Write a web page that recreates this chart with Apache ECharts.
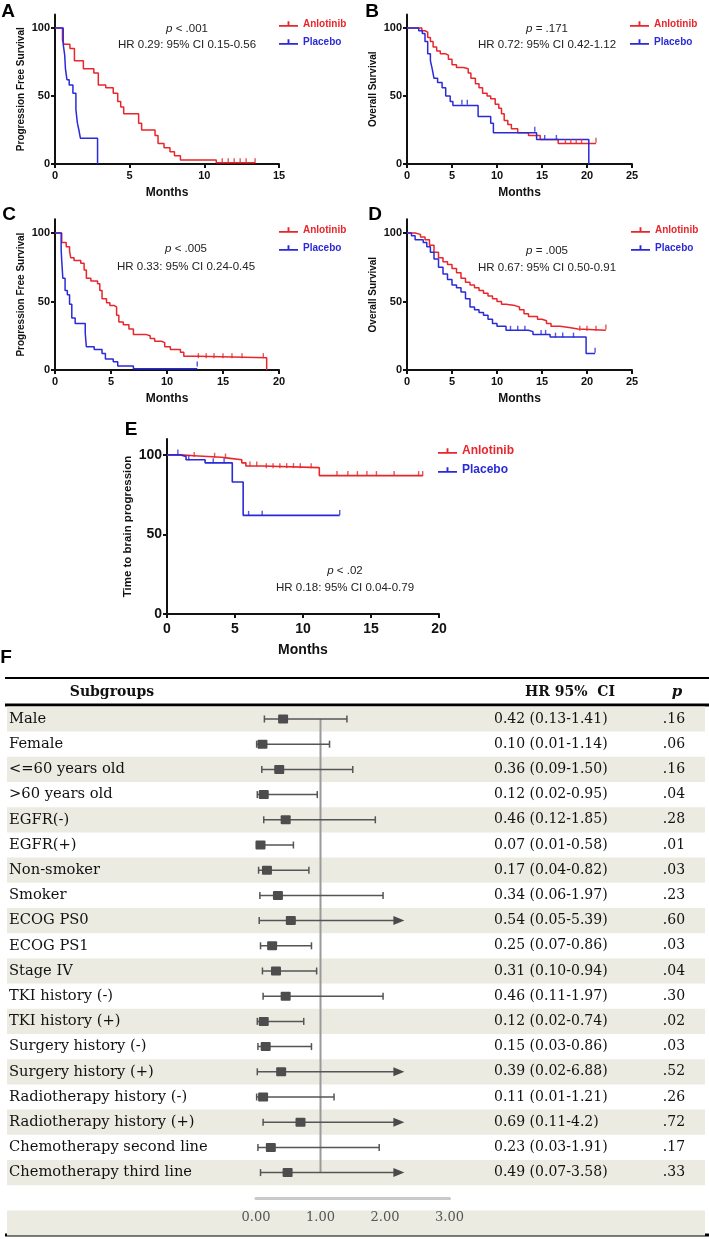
<!DOCTYPE html>
<html><head><meta charset="utf-8">
<script src="https://cdn.jsdelivr.net/npm/echarts@6/dist/echarts.min.js"></script>
<style>html,body{margin:0;padding:0;background:#fff}#c{width:709px;height:1239px}</style>
</head><body><div id="c"></div>
<script>
// ---------- Kaplan-Meier data: [months, survival %] (step after) ----------
const anlA = [[0,100],[0.5,91],[0.6,88],[1.0,85],[1.3,76],[1.9,70],[2.6,67],[2.9,58],[3.4,56],[3.9,52],[4.2,46],[4.4,42],[4.6,37],[5.6,30],[5.8,25],[6.7,21],[6.9,15],[7.3,12],[7.7,9],[8.0,6],[8.4,3],[10.8,1],[13.4,1]];
const plaA = [[0,100],[0.55,88],[0.65,80],[0.7,70],[0.8,62],[0.95,58],[1.2,52],[1.4,40],[1.5,30],[1.6,25],[1.7,19],[2.85,0]];
const censAnlA = [[11.2,1],[11.6,1],[12.0,1],[12.4,1],[12.8,1],[13.4,1]];
const censPlaA = [];

const anlB = [[0,100],[1.65,98],[2.0,97],[2.3,93],[2.6,90],[2.9,86],[3.3,83],[3.7,81],[4.3,80],[4.6,77],[5.0,73],[5.5,71],[6.3,70],[6.8,67],[7.1,63],[7.6,59],[8.0,56],[8.4,52],[8.9,50],[9.3,48],[9.8,44],[10.2,41],[10.5,37],[10.8,32],[11.2,29],[11.6,26],[12.3,23],[13.5,21],[14.8,18],[16.8,15],[21.0,15]];
const plaB = [[0,100],[1.3,98],[1.7,96],[2.0,90],[2.3,81],[2.6,76],[2.8,70],[3.0,63],[3.4,60],[3.9,56],[4.3,50],[4.8,46],[5.1,43],[7.9,35],[9.3,30],[9.6,23],[14.4,18],[20.2,0]];
const censAnlB = [[17.6,15],[18.2,15],[18.8,15],[19.4,15],[21.0,16]];
const censPlaB = [[6.1,44],[6.7,44],[14.2,24],[15.3,18],[16.6,18]];

const anlC = [[0,100],[0.6,93],[1.0,90],[1.3,87],[1.4,82],[1.7,80],[2.3,78],[2.6,73],[2.8,67],[3.2,65],[3.8,63],[4.0,58],[4.2,52],[4.6,49],[4.9,47],[5.3,46],[5.5,40],[5.7,35],[6.1,33],[6.6,30],[7.0,26],[8.1,25],[8.5,23],[8.9,21],[9.5,20],[9.8,17],[10.3,15],[11.2,13],[11.5,10],[12.8,9],[18.9,0]];
const plaC = [[0,100],[0.55,88],[0.6,80],[0.7,67],[0.9,58],[1.1,55],[1.3,48],[1.5,38],[1.8,34],[2.7,27],[2.8,17],[3.5,15],[4.2,12],[4.5,8],[5.2,6],[5.6,3],[7.0,1],[12.7,1]];
const censAnlC = [[12.8,9],[13.5,9],[14.2,9],[15.0,9],[15.8,9],[16.7,9],[18.6,9]];
const censPlaC = [[12.7,3]];

const anlD = [[0,100],[0.9,99],[1.5,97],[2.0,95],[2.5,91],[3.0,86],[3.5,82],[4.0,79],[4.5,77],[5.0,74],[5.5,71],[6.0,67],[6.5,64],[7.0,62],[7.5,60],[8.0,58],[8.5,56],[9.0,54],[9.5,52],[10.0,50],[10.5,48],[11.0,47],[12.0,46],[12.5,44],[13.0,41],[13.5,39],[14.5,37],[15.0,36],[15.5,34],[16.0,32],[17.0,31],[18.0,30],[19.0,29],[22.1,29]];
const plaD = [[0,100],[0.5,98],[0.9,95],[1.8,93],[2.2,90],[2.6,86],[3.0,81],[3.5,75],[4.0,70],[4.5,66],[5.0,62],[5.5,60],[6.0,57],[6.5,52],[7.0,46],[7.5,44],[8.0,42],[8.5,40],[9.0,37],[9.5,34],[10.0,32],[11.0,29],[13.5,28],[14.0,26],[15.9,24],[19.9,12],[20.9,12]];
const censAnlD = [[19.2,29],[20.0,29],[21.0,29],[22.1,30]];
const censPlaD = [[11.5,29],[12.3,29],[13.1,29],[14.9,26],[15.4,26],[16.5,24],[17.3,24],[18.5,24],[20.9,13]];

const anlE = [[0,100],[1.0,99.5],[2.0,99],[3.0,98.5],[4.0,98],[4.5,97],[5.5,95],[5.8,93],[7.0,92],[11.2,87],[18.8,87]];
const plaE = [[0,100],[1.0,99],[1.4,97],[2.8,95],[4.8,83],[5.6,62],[12.7,62]];
const censAnlE = [[2.0,99],[3.5,98.5],[4.3,98],[6.1,93],[6.6,93],[7.3,92],[7.8,92],[8.3,92],[8.8,92],[9.3,92],[9.8,92],[10.6,92],[12.5,87],[13.3,87],[14.0,87],[14.7,87],[15.4,87],[16.7,87],[18.5,87],[18.8,87]];
const censPlaE = [[0.8,100.5],[1.6,97],[3.4,95],[4.2,95],[6.0,62],[7.0,62],[12.7,62.5]];

const kmYTicks = [0, 50, 100];
const annotP = ['{i|p} < .001', '{i|p} = .171', '{i|p} < .005', '{i|p} = .005', '{i|p} < .02'];
const annotHR = ['HR 0.29: 95% CI 0.15-0.56', 'HR 0.72: 95% CI 0.42-1.12', 'HR 0.33: 95% CI 0.24-0.45', 'HR 0.67: 95% CI 0.50-0.91', 'HR 0.18: 95% CI 0.04-0.79'];

// ---------- Forest plot data ----------
const subgroups = ['Male','Female','<=60 years old','>60 years old','EGFR(-)','EGFR(+)','Non-smoker','Smoker','ECOG PS0','ECOG PS1','Stage IV','TKI history (-)','TKI history (+)','Surgery history (-)','Surgery history (+)','Radiotherapy history (-)','Radiotherapy history (+)','Chemotherapy second line','Chemotherapy third line'];
const hrVals = [0.42,0.10,0.36,0.12,0.46,0.07,0.17,0.34,0.54,0.25,0.31,0.46,0.12,0.15,0.39,0.11,0.69,0.23,0.49];
const ciLow  = [0.13,0.01,0.09,0.02,0.12,0.01,0.04,0.06,0.05,0.07,0.10,0.11,0.02,0.03,0.02,0.01,0.11,0.03,0.07];
const ciHigh = [1.41,1.14,1.50,0.95,1.85,0.58,0.82,1.97,5.39,0.86,0.94,1.97,0.74,0.86,6.88,1.21,4.2,1.91,3.58];
const hrLabels = ['0.42 (0.13-1.41)','0.10 (0.01-1.14)','0.36 (0.09-1.50)','0.12 (0.02-0.95)','0.46 (0.12-1.85)','0.07 (0.01-0.58)','0.17 (0.04-0.82)','0.34 (0.06-1.97)','0.54 (0.05-5.39)','0.25 (0.07-0.86)','0.31 (0.10-0.94)','0.46 (0.11-1.97)','0.12 (0.02-0.74)','0.15 (0.03-0.86)','0.39 (0.02-6.88)','0.11 (0.01-1.21)','0.69 (0.11-4.2)','0.23 (0.03-1.91)','0.49 (0.07-3.58)'];
const pLabels = ['.16','.06','.16','.04','.28','.01','.03','.23','.60','.03','.04','.30','.02','.03','.52','.26','.72','.17','.33'];
const forestTicks = [0, 1, 2, 3];
const forestRef = 1;
const arrowCap = 2.3;

// ---------- styling ----------
const SANS = "'Liberation Sans', Arial, sans-serif";
const SERIF = "'DejaVu Serif', serif";
const RED = '#e8262b', BLUE = '#2a2ad8';
const INK = '#111';
const BEIGE = '#ecebe2';

const panels = [
  {grid:{left:55,top:14.4,width:224,height:149.6}, xMax:15, yName:'Progression Free Survival', anl:anlA, pla:plaA, cA:censAnlA, cP:censPlaA, big:false, legend:{left:279,top:19}, ann:[187,29,45], letter:['A',8,12]},
  {grid:{left:407,top:14.4,width:225,height:149.6}, xMax:25, yName:'Overall Survival', anl:anlB, pla:plaB, cA:censAnlB, cP:censPlaB, big:false, legend:{left:630,top:19}, ann:[547,29,45], letter:['B',372,12]},
  {grid:{left:55,top:219.3,width:224,height:150.7}, xMax:20, yName:'Progression Free Survival', anl:anlC, pla:plaC, cA:censAnlC, cP:censPlaC, big:false, legend:{left:279,top:225}, ann:[186,249,267], letter:['C',9,215]},
  {grid:{left:407,top:219.3,width:225,height:150.7}, xMax:25, yName:'Overall Survival', anl:anlD, pla:plaD, cA:censAnlD, cP:censPlaD, big:false, legend:{left:631,top:225}, ann:[547,251,268], letter:['D',375,215]},
  {grid:{left:167,top:439,width:272,height:175}, xMax:20, yName:'Time to brain progression', anl:anlE, pla:plaE, cA:censAnlE, cP:censPlaE, big:true, legend:{left:438,top:445}, ann:[345,571,588], letter:['E',131,430]}
];

const grids = [], xAxes = [], yAxes = [], series = [], legends = [], graphics = [];
const legendIcon = 'path://M0,4 L20,4 L20,6 L0,6 Z M9,0 L11,0 L11,5 L9,5 Z';

panels.forEach((p, i) => {
  grids.push(p.grid);
  const tf = p.big ? 14 : 11;
  xAxes.push({
    gridIndex:i, type:'value', min:0, max:p.xMax, interval:5,
    name:'Months', nameLocation:'middle', nameGap:p.big ? 29 : 23,
    nameTextStyle:{fontFamily:SANS, fontWeight:'bold', fontSize:p.big ? 14 : 12, color:INK},
    axisLine:{show:true, onZero:false, lineStyle:{color:INK, width:2}},
    axisTick:{show:true, length:4, lineStyle:{color:INK, width:2}},
    axisLabel:{margin:p.big ? 8 : 6, fontFamily:SANS, fontWeight:'bold', fontSize:tf, color:INK},
    splitLine:{show:false}
  });
  yAxes.push({
    gridIndex:i, type:'value', min:0, max:110,
    name:p.yName, nameLocation:'middle', nameRotate:90, nameGap:p.big ? 33 : 29,
    nameTextStyle:{fontFamily:SANS, fontWeight:'bold', fontSize:p.big ? 11.5 : 10, color:INK},
    axisLine:{show:true, lineStyle:{color:INK, width:2}},
    axisTick:{show:true, length:4, customValues:kmYTicks, lineStyle:{color:INK, width:2}},
    axisLabel:{show:true, customValues:kmYTicks, margin:5, fontFamily:SANS, fontWeight:'bold', fontSize:tf, color:INK},
    splitLine:{show:false}
  });
  const lw = p.big ? 1.6 : 1.5;
  series.push({type:'line', name:'Anlotinib', xAxisIndex:i, yAxisIndex:i, data:p.anl, step:'end', showSymbol:false, symbol:'none', lineStyle:{color:RED, width:lw}, itemStyle:{color:RED}, z:3, animation:false});
  series.push({type:'line', name:'Placebo', xAxisIndex:i, yAxisIndex:i, data:p.pla, step:'end', showSymbol:false, symbol:'none', lineStyle:{color:BLUE, width:lw}, itemStyle:{color:BLUE}, z:3, animation:false});
  series.push({type:'scatter', name:'Anlotinib censored', xAxisIndex:i, yAxisIndex:i, data:p.cA, symbol:'rect', symbolSize:[1.4, 5], symbolOffset:[0,-2], itemStyle:{color:RED}, z:3, animation:false});
  series.push({type:'scatter', name:'Placebo censored', xAxisIndex:i, yAxisIndex:i, data:p.cP, symbol:'rect', symbolSize:[1.4, 5], symbolOffset:[0,-2], itemStyle:{color:BLUE}, z:3, animation:false});
  legends.push({
    left:p.legend.left, top:p.legend.top, orient:'vertical', padding:0,
    itemGap:p.big ? 7 : 8, itemWidth:19, itemHeight:6, icon:legendIcon,
    selectedMode:false,
    data:[{name:'Anlotinib', textStyle:{color:RED}}, {name:'Placebo', textStyle:{color:BLUE}}],
    textStyle:{fontFamily:SANS, fontWeight:'bold', fontSize:p.big ? 12 : 10}
  });
  const af = 11.5;
  graphics.push({type:'text', x:p.ann[0], y:p.ann[1], style:{text:annotP[i], fontFamily:SANS, fontSize:af, fill:'#222', align:'center', verticalAlign:'middle', rich:{i:{fontStyle:'italic', fontFamily:SANS, fontSize:af, fill:'#222'}}}});
  graphics.push({type:'text', x:p.ann[0], y:p.ann[2], style:{text:annotHR[i], fontFamily:SANS, fontSize:af, fill:'#222', align:'center', verticalAlign:'middle'}});
  graphics.push({type:'text', x:p.letter[1], y:p.letter[2], style:{text:p.letter[0], fontFamily:SANS, fontWeight:'bold', fontSize:19, fill:'#000', align:'center', verticalAlign:'middle'}});
});

// ---------- Forest plot grid ----------
const fi = panels.length;
const nRows = subgroups.length;
grids.push({left:256, top:706.4, width:193.5, height:491.4});
xAxes.push({
  gridIndex:fi, type:'value', position:'bottom', min:forestTicks[0], max:forestTicks[forestTicks.length-1], interval:1,
  axisLine:{show:true, onZero:false, lineStyle:{color:'#c9c9c9', width:3}},
  axisTick:{show:false},
  axisLabel:{margin:13, fontFamily:SERIF, fontSize:13, color:'#555', formatter:v => v.toFixed(2)},
  splitLine:{show:false}
});
yAxes.push({gridIndex:fi, type:'value', min:-0.5, max:nRows, inverse:true, show:false});

const bgRows = subgroups.map((_, i) => i).filter(i => i % 2 === 0).concat([nRows + 1]);
series.push({
  type:'custom', name:'rows-bg', xAxisIndex:fi, yAxisIndex:fi, clip:false, z:0, silent:true, animation:false,
  data:bgRows.map(r => [0, r]),
  renderItem:(params, api) => {
    const c = api.coord([0, api.value(1)]);
    const h = api.size([0, 1])[1];
    return {type:'rect', shape:{x:7, y:c[1] - h/2, width:698, height:h}, style:{fill:BEIGE}};
  }
});
series.push({
  type:'line', name:'ref', xAxisIndex:fi, yAxisIndex:fi, data:[[forestRef, 0],[forestRef, nRows - 1]],
  showSymbol:false, symbol:'none', lineStyle:{color:'#9a9a9a', width:2}, z:1, animation:false, silent:true
});
series.push({
  type:'custom', name:'forest', xAxisIndex:fi, yAxisIndex:fi, clip:false, z:2, animation:false,
  data:subgroups.map((_, i) => [i, ciLow[i], hrVals[i], ciHigh[i]]),
  renderItem:(params, api) => {
    const i = api.value(0), lo = api.value(1), hr = api.value(2), hi = api.value(3);
    const y = api.coord([0, i])[1];
    const xLo = api.coord([lo, i])[0];
    const xHr = api.coord([hr, i])[0];
    const arrow = hi > forestTicks[forestTicks.length-1];
    const xHi = api.coord([arrow ? arrowCap : hi, i])[0];
    const lc = '#555';
    const ch = [];
    ch.push({type:'line', shape:{x1:xLo, y1:y, x2:arrow ? xHi - 10 : xHi, y2:y}, style:{stroke:lc, lineWidth:1.5}});
    ch.push({type:'line', shape:{x1:xLo, y1:y-3.5, x2:xLo, y2:y+3.5}, style:{stroke:lc, lineWidth:1.5}});
    if (arrow) {
      ch.push({type:'polygon', shape:{points:[[xHi, y],[xHi-11, y-4.5],[xHi-11, y+4.5]]}, style:{fill:'#4a4a4a'}});
    } else {
      ch.push({type:'line', shape:{x1:xHi, y1:y-3.5, x2:xHi, y2:y+3.5}, style:{stroke:lc, lineWidth:1.5}});
    }
    ch.push({type:'rect', shape:{x:xHr-5, y:y-4.5, width:10, height:9, r:1}, style:{fill:'#4d4d4d'}});
    ch.push({type:'text', x:9, y:y, style:{text:subgroups[i], fontFamily:SERIF, fontSize:14.7, fill:INK, align:'left', verticalAlign:'middle'}});
    ch.push({type:'text', x:494, y:y, style:{text:hrLabels[i], fontFamily:SERIF, fontSize:14, fill:INK, align:'left', verticalAlign:'middle'}});
    ch.push({type:'text', x:674, y:y, style:{text:pLabels[i], fontFamily:SERIF, fontSize:14, fill:INK, align:'center', verticalAlign:'middle'}});
    return {type:'group', children:ch};
  }
});

// header and rules of the table
graphics.push({type:'text', x:6, y:658, style:{text:'F', fontFamily:SANS, fontWeight:'bold', fontSize:19, fill:'#000', align:'center', verticalAlign:'middle'}});
graphics.push({type:'line', shape:{x1:5, y1:678, x2:709, y2:678}, style:{stroke:'#000', lineWidth:2}});
graphics.push({type:'line', shape:{x1:5, y1:705, x2:709, y2:705}, style:{stroke:'#000', lineWidth:3}});
graphics.push({type:'line', shape:{x1:5, y1:1235, x2:709, y2:1235}, style:{stroke:'#000', lineWidth:3}});
graphics.push({type:'text', x:112, y:692, style:{text:'Subgroups', fontFamily:SERIF, fontWeight:'bold', fontSize:14, fill:INK, align:'center', verticalAlign:'middle'}});
graphics.push({type:'text', x:570, y:692, style:{text:'HR 95%  CI', fontFamily:SERIF, fontWeight:'bold', fontSize:14, fill:INK, align:'center', verticalAlign:'middle'}});
graphics.push({type:'text', x:677, y:692, style:{text:'p', fontFamily:SERIF, fontWeight:'bold', fontStyle:'italic', fontSize:15, fill:INK, align:'center', verticalAlign:'middle'}});

const chart = echarts.init(document.getElementById('c'), null, {renderer:'canvas'});
chart.setOption({
  animation:false,
  backgroundColor:'#fff',
  grid:grids, xAxis:xAxes, yAxis:yAxes, series:series, legend:legends,
  graphic:{elements:graphics}
});
</script></body></html>
